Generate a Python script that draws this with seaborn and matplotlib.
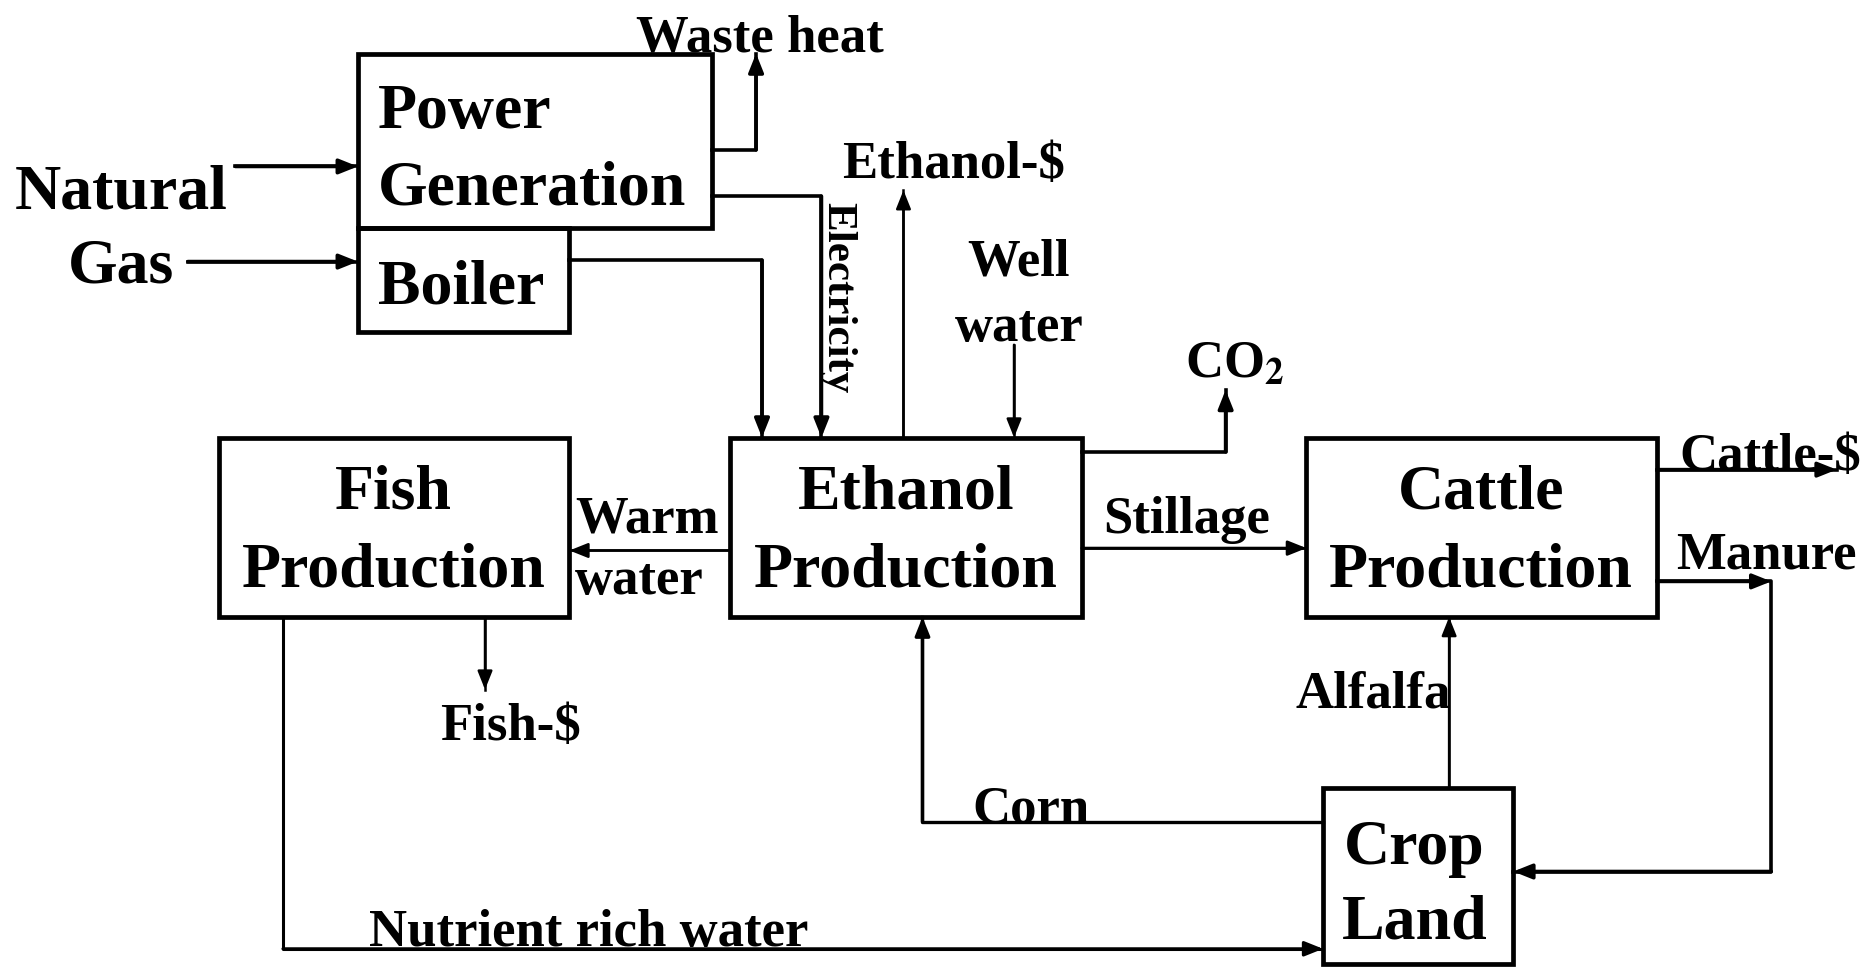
import matplotlib
matplotlib.use("Agg")
import seaborn as sns
import pandas as pd
from matplotlib import pyplot as plt
from matplotlib.patches import Rectangle

# Process blocks of the integrated ethanol / fish / cattle / crop system
box_names = ["Power Generation", "Boiler", "Fish Production", "Ethanol Production",
             "Cattle Production", "Crop Land"]
box_lines = [["Power", "Generation"], ["Boiler"], ["Fish", "Production"],
             ["Ethanol", "Production"], ["Cattle", "Production"], ["Crop", "Land"]]
inputs = ["Natural", "Gas"]

# Flow labels
flow_labels = ["Natural gas", "Natural gas", "Waste heat", "Electricity", "Steam", "Ethanol-$",
               "Well water", "CO$_2$", "Stillage", "Warm water", "Fish-$",
               "Nutrient rich water", "Corn", "Alfalfa", "Manure", "Cattle-$"]

# ---- layout (reference pixel grid, y downwards) ----
W, H = 1568, 815
box_xywh = [(301, 45, 298, 147), (301, 192, 178, 87), (184, 368, 295, 151),
            (614, 368, 296, 151), (1099, 368, 295, 151), (1113, 663, 160, 148)]
box_text_pos = [("left", 318, [108, 172]), ("left", 318, [255]), ("center", 331, [428, 493]),
                ("center", 762, [428, 493]), ("center", 1246, [428, 493]),
                ("center", 1190, [727, 789])]

thick, thin = 2.6, 1.8
flow_paths = [
    ([198, 301], [140, 140], thick),
    ([158, 301], [220, 220], thick),
    ([599, 636, 636], [126, 126, 45], thick),
    ([599, 691, 691], [165, 165, 368], thick),
    ([479, 641, 641], [219, 219, 368], thick),
    ([760, 760], [368, 160], thin),
    ([853, 853], [290, 368], thin),
    ([910, 1031, 1031], [380, 380, 328], thick),
    ([910, 1099], [461, 461], 2.0),
    ([614, 479], [463, 463], thin),
    ([408, 408], [519, 580], thin),
    ([238, 238, 1113], [519, 798, 798], 2.2),
    ([1113, 776, 776], [691, 691, 519], 2.4),
    ([1219, 1219], [663, 519], thin),
    ([1394, 1490, 1490, 1273], [489, 489, 733, 733], thick),
    ([1394, 1545], [395, 395], thick),
]

# label text: (text, x, baseline y, ha, size)
label_items = [
    ("Waste heat", 535, 43, "left", 38),
    ("Ethanol-$", 708, 150, "left", 38),
    ("Well", 857, 232, "center", 38),
    ("water", 857, 287, "center", 38),
    ("CO$_\\mathbf{2}$", 997, 318, "left", 38),
    ("Stillage", 928, 448, "left", 38),
    ("Warm", 484, 448, "left", 38),
    ("water", 484, 500, "left", 38),
    ("Cattle-$", 1413, 395, "left", 38),
    ("Manure", 1410, 478, "left", 38),
    ("Fish-$", 370, 622, "left", 38),
    ("Alfalfa", 1090, 595, "left", 38),
    ("Corn", 818, 692, "left", 38),
    ("Nutrient rich water", 310, 796, "left", 38),
]

sns.set_style("white")
plt.rcParams["font.family"] = ["Liberation Serif", "DejaVu Serif"]
plt.rcParams["mathtext.fontset"] = "stix"
plt.rcParams["text.color"] = "black"

fig = plt.figure(figsize=(18.64, 9.69), dpi=100)
ax = fig.add_axes([0, 0, 1, 1])
ax.set_xlim(0, W)
ax.set_ylim(H, 0)
ax.axis("off")

for (x, y, w, h), lines, (ha, tx, bases) in zip(box_xywh, box_lines, box_text_pos):
    ax.add_patch(Rectangle((x, y), w, h, fill=False, lw=3.4, ec="black", zorder=3))
    for line, b in zip(lines, bases):
        ax.text(tx, b, line, ha=ha, va="baseline", fontsize=46, fontweight="bold",
                color="black")

ax.text(12, 175, inputs[0], ha="left", va="baseline", fontsize=46, fontweight="bold",
        color="black")
ax.text(102, 238, inputs[1], ha="center", va="baseline", fontsize=46, fontweight="bold",
        color="black")

head = dict(arrowstyle="-|>,head_length=0.45,head_width=0.18", color="black",
            mutation_scale=25, shrinkA=0, shrinkB=0)
for xs, ys, lw in flow_paths:
    df = pd.DataFrame({"x": xs, "y": ys})
    sns.lineplot(data=df, x="x", y="y", sort=False, estimator=None, color="black",
                 lw=lw, ax=ax, solid_capstyle="projecting")
    ax.annotate("", xy=(xs[-1], ys[-1]), xytext=(xs[-2], ys[-2]),
                arrowprops=dict(head, lw=lw))
# manure arrow also has a head at the first corner
ax.annotate("", xy=(1490, 489), xytext=(1394, 489), arrowprops=dict(head, lw=thick))

for text, x, y, ha, size in label_items:
    ax.text(x, y, text, ha=ha, va="baseline", fontsize=size, fontweight="bold",
            color="black")
ax.text(704, 250, "Electricity", rotation=270, ha="center", va="center",
        fontsize=31, fontweight="bold", color="black")

ax.set_xlim(0, W)
ax.set_ylim(H, 0)
ax.set_xlabel("")
ax.set_ylabel("")
fig.savefig("out.png", dpi=100)
